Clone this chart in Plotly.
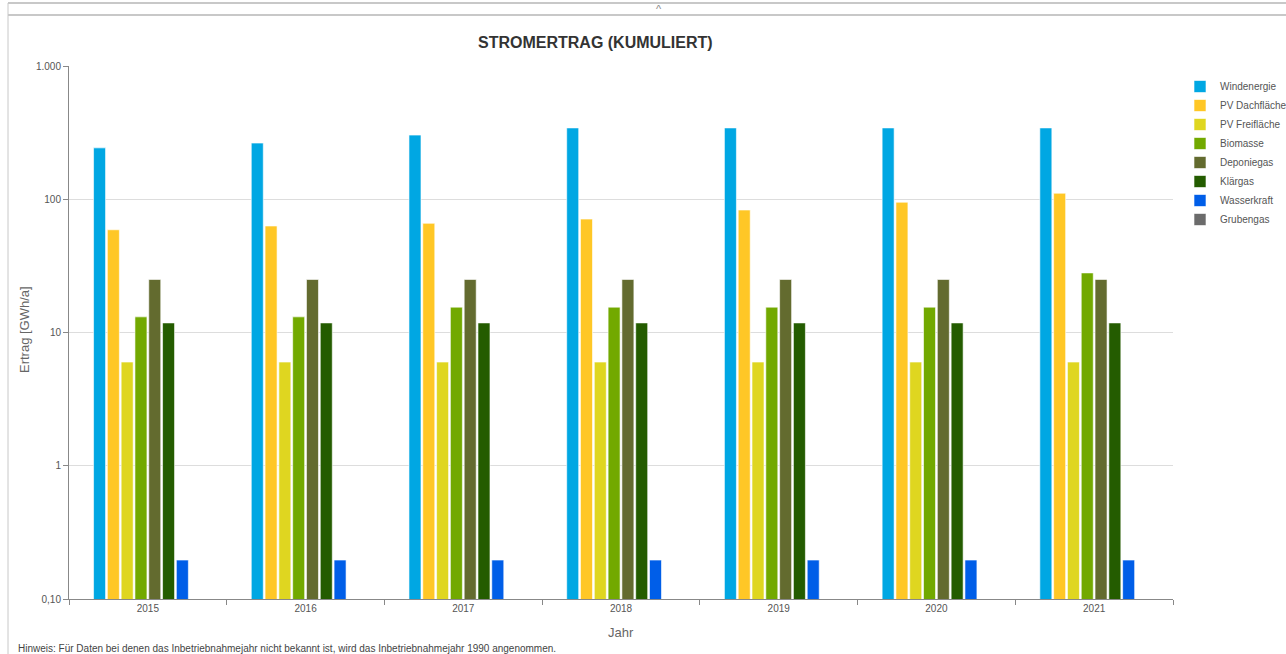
import plotly.graph_objects as go

years = ["2015", "2016", "2017", "2018", "2019", "2020", "2021"]

windenergie = [243, 264, 303, 343, 343, 343, 343]
pv_dachflaeche = [59, 63, 66, 71, 83, 95, 111]
pv_freiflaeche = [6, 6, 6, 6, 6, 6, 6]
biomasse = [13.1, 13.1, 15.5, 15.5, 15.5, 15.5, 28]
deponiegas = [25, 25, 25, 25, 25, 25, 25]
klaergas = [11.8, 11.8, 11.8, 11.8, 11.8, 11.8, 11.8]
wasserkraft = [0.196, 0.196, 0.196, 0.196, 0.196, 0.196, 0.196]
grubengas = [None, None, None, None, None, None, None]

series_names = ["Windenergie", "PV Dachfläche", "PV Freifläche", "Biomasse",
                "Deponiegas", "Klärgas", "Wasserkraft", "Grubengas"]
series_values = [windenergie, pv_dachflaeche, pv_freiflaeche, biomasse,
                 deponiegas, klaergas, wasserkraft, grubengas]
colors = ["#00a7e3", "#ffc726", "#dfd620", "#72a900",
          "#636b2f", "#245c00", "#005ee8", "#6b6b6b"]

y_tickvals = [0.1, 1, 10, 100, 1000]
y_ticktext = ["0,10", "1", "10", "100", "1.000"]

FONT = "Liberation Sans, Arial, sans-serif"

fig = go.Figure()
for name, vals, col in zip(series_names, series_values, colors):
    fig.add_trace(go.Bar(
        x=years, y=vals, name=name,
        marker=dict(color=col, line=dict(color="rgba(255,255,255,0.6)", width=1)),
    ))

W, H = 1286, 654
L, R, T, B = 69, 1173, 66, 599

def px(x):
    return (x - L) / (R - L)

def py(y):
    return (B - y) / (B - T)

fig.update_layout(
    width=W, height=H,
    margin=dict(l=L, r=W - R, t=T, b=H - B, pad=0, autoexpand=False),
    paper_bgcolor="white", plot_bgcolor="white",
    font=dict(family=FONT, size=11, color="#555555"),
    barmode="group", bargap=0.30, bargroupgap=0.13,
    showlegend=True,
    legend=dict(x=1180 / W, y=1 - 72 / H, xref="container", yref="container",
                xanchor="left", yanchor="top",
                font=dict(family=FONT, size=10, color="#555555"),
                itemwidth=30, tracegroupgap=0, bgcolor="rgba(0,0,0,0)"),
    xaxis=dict(type="category", showline=True, linecolor="#888888", linewidth=1,
               ticks="outside", ticklen=5, tickcolor="#888888", tickson="boundaries",
               tickfont=dict(family=FONT, size=10, color="#555555"),
               showgrid=False, automargin=False),
    yaxis=dict(type="log", range=[-1, 3], tickvals=y_tickvals, ticktext=y_ticktext,
               showline=True, linecolor="#888888", linewidth=1,
               ticks="outside", ticklen=5, tickcolor="#888888",
               gridcolor="#dddddd", gridwidth=1,
               tickfont=dict(family=FONT, size=10, color="#555555"),
               zeroline=False, automargin=False),
    annotations=[
        dict(text="<b>STROMERTRAG (KUMULIERT)</b>", x=px(595), y=py(42), xref="paper", yref="paper",
             showarrow=False, xanchor="center", yanchor="middle",
             font=dict(family=FONT, size=16, color="#333333")),
        dict(text="Ertrag [GWh/a]", x=px(24), y=py(330), xref="paper", yref="paper",
             showarrow=False, xanchor="center", yanchor="middle", textangle=-90,
             font=dict(family=FONT, size=13, color="#666666")),
        dict(text="Jahr", x=px(621), y=py(632), xref="paper", yref="paper",
             showarrow=False, xanchor="center", yanchor="middle",
             font=dict(family=FONT, size=13, color="#666666")),
        dict(text="Hinweis: Für Daten bei denen das Inbetriebnahmejahr nicht bekannt ist, wird das Inbetriebnahmejahr 1990 angenommen.",
             x=px(16), y=py(648), xref="paper", yref="paper", showarrow=False,
             xanchor="left", yanchor="middle",
             font=dict(family=FONT, size=10, color="#444444")),
        dict(text="^", x=px(659), y=py(9), xref="paper", yref="paper", showarrow=False,
             xanchor="center", yanchor="middle",
             font=dict(family=FONT, size=11, color="#888888")),
    ],
    shapes=[
        dict(type="line", xref="paper", yref="paper", x0=px(8), x1=px(1286), y0=py(3), y1=py(3),
             line=dict(color="#c8c8c8", width=2)),
        dict(type="line", xref="paper", yref="paper", x0=px(8), x1=px(1286), y0=py(15), y1=py(15),
             line=dict(color="#c8c8c8", width=2)),
        dict(type="line", xref="paper", yref="paper", x0=px(8), x1=px(8), y0=py(3), y1=py(654),
             line=dict(color="#c8c8c8", width=1)),
    ],
)

fig.write_html("out.html")
